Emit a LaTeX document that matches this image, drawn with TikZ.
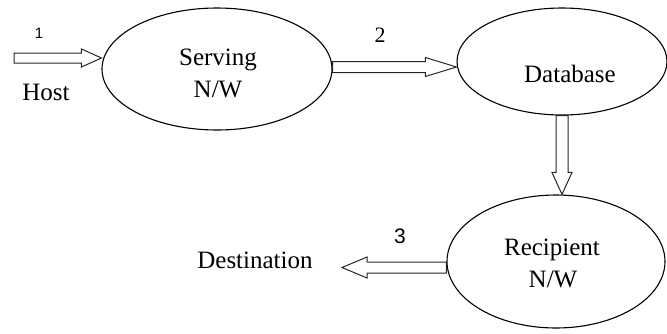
\documentclass[tikz,border=0pt]{standalone}
\usepackage{fontspec}
\setmainfont{Liberation Serif}
\newfontfamily\sansf{Liberation Sans}
\usetikzlibrary{shapes.geometric,calc}
\tikzset{
  aw/.store in=\aw, ahw/.store in=\ahw, ahl/.store in=\ahl,
  aw=5pt, ahw=10pt, ahl=24pt,
  hollow/.style={line width=1pt, draw=black!85, line join=miter,
    to path={
    let \p1=(\tikztostart), \p2=(\tikztotarget),
        \n1={atan2(\y2-\y1,\x2-\x1)} in
    ($(\p1)+(\n1+90:\aw)$) -- ($(\p2)+(\n1+180:\ahl)+(\n1+90:\aw)$)
    -- ($(\p2)+(\n1+180:\ahl)+(\n1+90:\ahw)$) -- (\p2)
    -- ($(\p2)+(\n1+180:\ahl)+(\n1-90:\ahw)$)
    -- ($(\p2)+(\n1+180:\ahl)+(\n1-90:\aw)$)
    -- ($(\p1)+(\n1-90:\aw)$) -- cycle}},
  oval/.style={ellipse, draw=black, line width=1.1pt, inner sep=0pt},
  txt/.style={font=\fontsize{25pt}{30pt}\selectfont, inner sep=0pt, anchor=base},
  num/.style={inner sep=0pt, anchor=base},
}
\begin{document}
\begin{tikzpicture}[x=1pt,y=-1pt]
\useasboundingbox (0,0) rectangle (667,333);
% ellipses
\node[oval, minimum width=230pt, minimum height=122pt] (serv) at (217,69) {};
\node[oval, minimum width=210pt, minimum height=107pt] (db) at (562,61.5) {};
\node[oval, minimum width=218pt, minimum height=133pt] (rec) at (556,261.5) {};
% texts
\node[txt] (servt1) at (218,65) {Serving};
\node[txt] (servt2) at (218,97) {N/W};
\node[txt] (dbt) at (570,82) {Database};
\node[txt] (rect1) at (552,255.5) {Recipient};
\node[txt] (rect2) at (553,287) {N/W};
\node[txt] (host) at (46,100) {Host};
\node[txt] (dest) at (255,268) {Destination};
\node[num, font=\sansf\fontsize{15pt}{18pt}\selectfont] (n1) at (39,38) {1};
\node[num, font=\fontsize{22pt}{26pt}\selectfont] (n2) at (380,42) {2};
\node[num, font=\sansf\fontsize{21pt}{25pt}\selectfont] (n3) at (400,243) {3};
% connectors
\coordinate (a1s) at (14,58);
\draw[hollow, aw=5pt, ahw=9pt, ahl=20pt] (a1s) to (a1s -| serv.west);
\coordinate (a2s) at ([yshift=2pt]serv.east);
\draw[hollow, aw=5.5pt, ahw=9.5pt, ahl=31pt] (a2s) to (a2s -| db.west);
\draw[hollow, aw=6pt, ahw=10pt, ahl=22pt] (db.south) to (db.south |- rec.north);
\coordinate (a4s) at ([yshift=-6pt]rec.west);
\coordinate (a4e) at (342,267.5);
\draw[hollow, aw=5.5pt, ahw=10.5pt, ahl=25pt] (a4s) to (a4e);
\end{tikzpicture}
\end{document}
